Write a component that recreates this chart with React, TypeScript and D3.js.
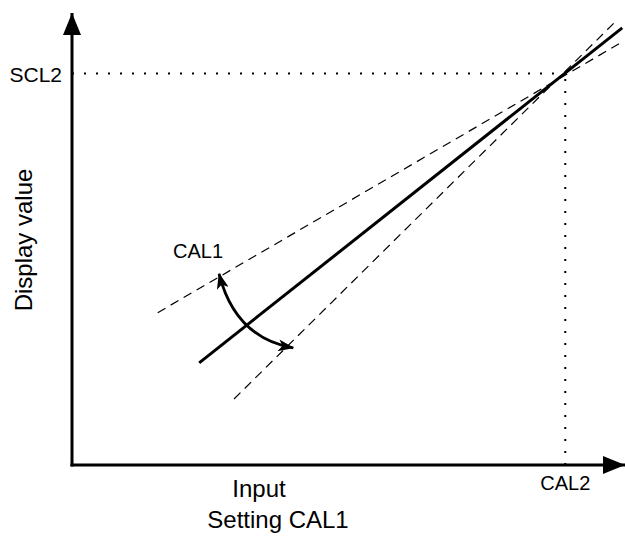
import React, { useEffect, useRef } from 'react';
import * as d3 from 'd3';

// Coordinates in a 0..100 "plot unit" space (x: input, y: display value)
const calPoint = { x: 89.2, y: 86.6 }; // CAL2 / SCL2 crossing

const solidLine: [number, number][] = [[23.0, 22.6], [99.5, 96.7]];
const shallowLine: [number, number][] = [[15.5, 33.7], [99.5, 93.6]];
const steepLine: [number, number][] = [[29.3, 14.6], [98.2, 98.0]];
const calArc: [number, number][] = [[26.6, 42.3], [29.5, 28.2], [40.0, 25.9]];

const axisLabels = { x: 'Input', y: 'Display value' };
const markLabels = { scl2: 'SCL2', cal2: 'CAL2', cal1: 'CAL1' };
const caption = 'Setting CAL1';

const App: React.FC = () => {
  const svgRef = useRef<SVGSVGElement>(null);
  const width = 625;
  const height = 544;

  useEffect(() => {
    if (!svgRef.current) return;
    const svg = d3.select(svgRef.current);
    svg.selectAll('*').remove();

    const x = d3.scaleLinear().domain([0, 100]).range([72, 625]);
    const y = d3.scaleLinear().domain([0, 100]).range([465, 13]);
    const font = 'Helvetica, Arial, "Liberation Sans", sans-serif';

    const defs = svg.append('defs');
    defs.append('marker')
      .attr('id', 'axisHead')
      .attr('viewBox', '0 0 22 18')
      .attr('refX', 22)
      .attr('refY', 9)
      .attr('markerUnits', 'userSpaceOnUse')
      .attr('markerWidth', 22)
      .attr('markerHeight', 18)
      .attr('orient', 'auto')
      .append('path')
      .attr('d', 'M0,0 L22,9 L0,18 Z')
      .attr('fill', '#000');

    defs.append('marker')
      .attr('id', 'arcHead')
      .attr('viewBox', '0 0 16 12')
      .attr('refX', 15)
      .attr('refY', 6)
      .attr('markerUnits', 'userSpaceOnUse')
      .attr('markerWidth', 16)
      .attr('markerHeight', 12)
      .attr('orient', 'auto-start-reverse')
      .append('path')
      .attr('d', 'M0,0 L16,6 L0,12 L4,6 Z')
      .attr('fill', '#000');

    // Dotted reference lines
    svg.append('line')
      .attr('x1', x(0)).attr('y1', y(calPoint.y))
      .attr('x2', x(calPoint.x)).attr('y2', y(calPoint.y))
      .attr('stroke', '#000').attr('stroke-width', 2)
      .attr('stroke-dasharray', '2,10');
    svg.append('line')
      .attr('x1', x(calPoint.x)).attr('y1', y(0))
      .attr('x2', x(calPoint.x)).attr('y2', y(calPoint.y))
      .attr('stroke', '#000').attr('stroke-width', 2)
      .attr('stroke-dasharray', '2,10');

    const line = d3.line<[number, number]>()
      .x(d => x(d[0]))
      .y(d => y(d[1]));

    // Dashed alternatives
    [shallowLine, steepLine].forEach(pts => {
      svg.append('path')
        .attr('d', line(pts))
        .attr('fill', 'none')
        .attr('stroke', '#000')
        .attr('stroke-width', 1.2)
        .attr('stroke-dasharray', '9,6');
    });

    // Calibrated line
    svg.append('path')
      .attr('d', line(solidLine))
      .attr('fill', 'none')
      .attr('stroke', '#000')
      .attr('stroke-width', 3);

    // Curved CAL1 arrow
    const [a, c, b] = calArc;
    svg.append('path')
      .attr('d', `M${x(a[0])},${y(a[1])} Q${x(c[0])},${y(c[1])} ${x(b[0])},${y(b[1])}`)
      .attr('fill', 'none')
      .attr('stroke', '#000')
      .attr('stroke-width', 2.8)
      .attr('marker-start', 'url(#arcHead)')
      .attr('marker-end', 'url(#arcHead)');

    // Axes
    svg.append('line')
      .attr('x1', x(0)).attr('y1', y(0) + 1.5)
      .attr('x2', x(0)).attr('y2', y(100))
      .attr('stroke', '#000').attr('stroke-width', 3)
      .attr('marker-end', 'url(#axisHead)');
    svg.append('line')
      .attr('x1', x(0) - 1.5).attr('y1', y(0))
      .attr('x2', x(100)).attr('y2', y(0))
      .attr('stroke', '#000').attr('stroke-width', 3)
      .attr('marker-end', 'url(#axisHead)');

    const text = (tx: number, ty: number, s: string, size: number, anchor = 'middle') =>
      svg.append('text')
        .attr('x', tx).attr('y', ty)
        .attr('text-anchor', anchor)
        .style('font-family', font)
        .style('font-size', `${size}px`)
        .attr('fill', '#000')
        .text(s);

    text(62, 82, markLabels.scl2, 21, 'end');
    text(x(calPoint.x), 490, markLabels.cal2, 20);
    text(198, 258, markLabels.cal1, 20);
    text(259, 497, axisLabels.x, 24);
    text(278, 528, caption, 24);
    text(0, 0, axisLabels.y, 24)
      .attr('transform', `translate(32,${y(50) + 1}) rotate(-90)`);
  }, []);

  return (
    <svg
      ref={svgRef}
      width={width}
      height={height}
      style={{ position: 'absolute', left: 0, top: 0, background: '#fff', display: 'block' }}
    />
  );
};

export default App;
